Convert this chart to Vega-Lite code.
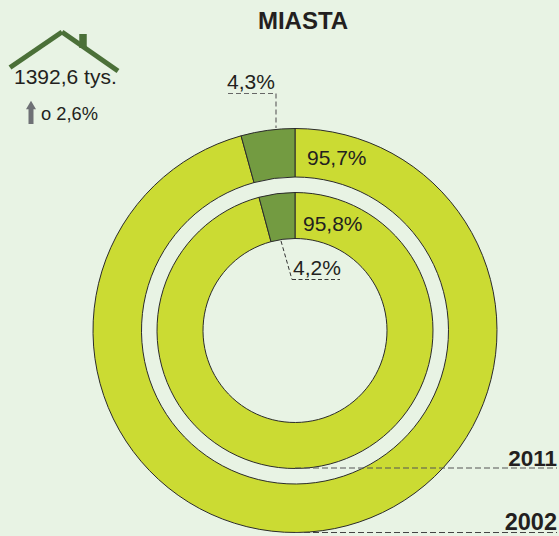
{"$schema":"https://vega.github.io/schema/vega-lite/v6.json","width":559,"height":536,"padding":0,"autosize":"none","background":"#E8F3E4","view":{"stroke":null},
"data":{"values":[{}]},
"datasets":{"shares":[{"rok":2002,"grupa":"a","udzial":95.7},{"rok":2002,"grupa":"b","udzial":4.3},{"rok":2011,"grupa":"a","udzial":95.8},{"rok":2011,"grupa":"b","udzial":4.2}]},
"layer":[
{"data":{"name":"shares"},"transform":[{"filter":"datum.rok==2002"}],"mark":{"type":"arc","radius":202,"radius2":153.5,"stroke":"#2b2b2b","strokeWidth":1},"encoding":{"x":{"value":295},"y":{"value":330.5},"theta":{"field":"udzial","type":"quantitative","stack":true,"scale":{"domain":[0,100]}},"order":{"field":"grupa"},"color":{"field":"grupa","type":"nominal","legend":null,"scale":{"domain":["a","b"],"range":["#CBDB33","#739B41"]}}}},
{"data":{"name":"shares"},"transform":[{"filter":"datum.rok==2011"}],"mark":{"type":"arc","radius":138,"radius2":92,"stroke":"#2b2b2b","strokeWidth":1},"encoding":{"x":{"value":295},"y":{"value":330.5},"theta":{"field":"udzial","type":"quantitative","stack":true,"scale":{"domain":[0,100]}},"order":{"field":"grupa"},"color":{"field":"grupa","type":"nominal","legend":null,"scale":{"domain":["a","b"],"range":["#CBDB33","#739B41"]}}}},
{"mark":{"type":"rule","stroke":"#666","strokeWidth":1.2,"strokeDash":[5,3]},"encoding":{"x":{"value":228},"y":{"value":93.5},"x2":{"value":276},"y2":{"value":93.5}}},
{"mark":{"type":"rule","stroke":"#666","strokeWidth":1.2,"strokeDash":[5,3]},"encoding":{"x":{"value":276},"y":{"value":93.5},"x2":{"value":276},"y2":{"value":128}}},
{"mark":{"type":"rule","stroke":"#333","strokeWidth":1,"strokeDash":[4,2.5]},"encoding":{"x":{"value":281},"y":{"value":241},"x2":{"value":292},"y2":{"value":279.5}}},
{"mark":{"type":"rule","stroke":"#333","strokeWidth":1,"strokeDash":[4,2.5]},"encoding":{"x":{"value":292},"y":{"value":279.5},"x2":{"value":340},"y2":{"value":279.5}}},
{"mark":{"type":"rule","stroke":"#555","strokeWidth":1.2,"strokeDash":[6,3]},"encoding":{"x":{"value":295},"y":{"value":468},"x2":{"value":557},"y2":{"value":468}}},
{"mark":{"type":"rule","stroke":"#444","strokeWidth":1.2,"strokeDash":[6,3]},"encoding":{"x":{"value":295},"y":{"value":532.5},"x2":{"value":557},"y2":{"value":532.5}}},
{"mark":{"type":"rule","stroke":"#4B7038","strokeWidth":5},"encoding":{"x":{"value":10},"y":{"value":67.5},"x2":{"value":62},"y2":{"value":32}}},
{"mark":{"type":"rule","stroke":"#4B7038","strokeWidth":5},"encoding":{"x":{"value":62},"y":{"value":32},"x2":{"value":118},"y2":{"value":71}}},
{"mark":{"type":"rule","stroke":"#4B7038","strokeWidth":7.5},"encoding":{"x":{"value":83},"y":{"value":34},"x2":{"value":83},"y2":{"value":48}}},
{"mark":{"type":"rule","stroke":"#6E7075","strokeWidth":5},"encoding":{"x":{"value":31},"y":{"value":108},"x2":{"value":31},"y2":{"value":124}}},
{"mark":{"type":"point","shape":"triangle-up","x":31,"y":105,"size":100,"filled":true,"fill":"#6E7075","opacity":1},"encoding":{}},
{"data":{"values":[{"t":"MIASTA"}]},"mark":{"type":"text","x":303,"y":29,"align":"center","baseline":"alphabetic","font":"Liberation Sans","fontWeight":"bold","fontSize":24,"fill":"#231F20"},"encoding":{"text":{"field":"t"}}},
{"data":{"values":[{"t":"1392,6 tys."}]},"mark":{"type":"text","x":14,"y":84,"align":"left","baseline":"alphabetic","font":"Liberation Sans","fontSize":21,"fill":"#231F20"},"encoding":{"text":{"field":"t"}}},
{"data":{"values":[{"t":"o 2,6%"}]},"mark":{"type":"text","x":41,"y":120,"align":"left","baseline":"alphabetic","font":"Liberation Sans","fontSize":18.3,"fill":"#231F20"},"encoding":{"text":{"field":"t"}}},
{"data":{"values":[{"t":"4,3%"}]},"mark":{"type":"text","x":227,"y":89,"align":"left","baseline":"alphabetic","font":"Liberation Sans","fontSize":21,"fill":"#231F20"},"encoding":{"text":{"field":"t"}}},
{"data":{"values":[{"t":"95,7%"}]},"mark":{"type":"text","x":307,"y":165,"align":"left","baseline":"alphabetic","font":"Liberation Sans","fontSize":21,"fill":"#231F20"},"encoding":{"text":{"field":"t"}}},
{"data":{"values":[{"t":"95,8%"}]},"mark":{"type":"text","x":303,"y":231,"align":"left","baseline":"alphabetic","font":"Liberation Sans","fontSize":21,"fill":"#231F20"},"encoding":{"text":{"field":"t"}}},
{"data":{"values":[{"t":"4,2%"}]},"mark":{"type":"text","x":293,"y":275,"align":"left","baseline":"alphabetic","font":"Liberation Sans","fontSize":21,"fill":"#231F20"},"encoding":{"text":{"field":"t"}}},
{"data":{"values":[{"t":"2011"}]},"mark":{"type":"text","x":557,"y":465.5,"align":"right","baseline":"alphabetic","font":"Liberation Sans","fontWeight":"bold","fontSize":22.5,"fill":"#231F20"},"encoding":{"text":{"field":"t"}}},
{"data":{"values":[{"t":"2002"}]},"mark":{"type":"text","x":557,"y":530,"align":"right","baseline":"alphabetic","font":"Liberation Sans","fontWeight":"bold","fontSize":23.5,"fill":"#231F20"},"encoding":{"text":{"field":"t"}}}
]}
